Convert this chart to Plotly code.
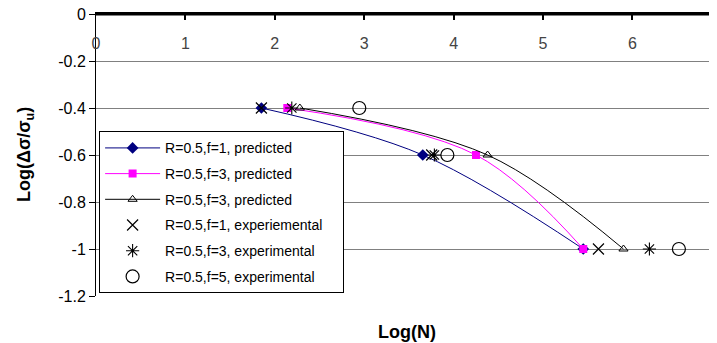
import plotly.graph_objects as go

# Data
y_levels = [-0.4, -0.6, -1.0]

pred_f1_x = [1.85, 3.655, 5.45]
pred_f3_x = [2.14, 4.25, 5.45]
pred_f3b_x = [2.28, 4.38, 5.90]

exp_f1_x = [1.85, 3.755, 5.62]
exp_f3_x = [2.19, 3.785, 6.19]
exp_f5_x = [2.945, 3.93, 6.52]

names = [
    "R=0.5,f=1, predicted",
    "R=0.5,f=3, predicted",
    "R=0.5,f=3, predicted",
    "R=0.5,f=1, experiemental\u00a0\u00a0\u00a0\u00a0",
    "R=0.5,f=3, experimental",
    "R=0.5,f=5, experimental",
]

y_tickvals = [0, -0.2, -0.4, -0.6, -0.8, -1.0, -1.2]
y_ticktext = ["0", "-0.2", "-0.4", "-0.6", "-0.8", "-1", "-1.2"]
x_tickvals = [0, 1, 2, 3, 4, 5, 6]
x_ticktext = ["0", "1", "2", "3", "4", "5", "6"]

FONT = "Liberation Sans, Arial, sans-serif"

fig = go.Figure()

fig.add_trace(go.Scatter(
    x=pred_f1_x, y=y_levels, name=names[0], mode="lines+markers",
    line=dict(color="#000080", width=1, shape="spline", smoothing=1),
    marker=dict(symbol="diamond", size=9, color="#000080"),
    legendgroup="a"))
fig.add_trace(go.Scatter(
    x=pred_f3_x, y=y_levels, name=names[1], mode="lines+markers",
    line=dict(color="#FF00FF", width=1, shape="spline", smoothing=1),
    marker=dict(symbol="square", size=8, color="#FF00FF"),
    legendgroup="b"))
fig.add_trace(go.Scatter(
    x=pred_f3b_x, y=y_levels, name=names[2], mode="lines+markers",
    line=dict(color="#000000", width=1, shape="spline", smoothing=1),
    marker=dict(symbol="triangle-up-open", size=8, color="#000000",
                line=dict(width=1, color="#000000")),
    legendgroup="c"))
fig.add_trace(go.Scatter(
    x=exp_f1_x, y=y_levels, name=names[3], mode="markers",
    marker=dict(symbol="x-thin-open", size=11, color="#000000",
                line=dict(width=1.2, color="#000000")),
    legendgroup="d"))
fig.add_trace(go.Scatter(
    x=exp_f3_x, y=y_levels, name=names[4], mode="markers",
    marker=dict(symbol="asterisk-open", size=11, color="#000000",
                line=dict(width=1.1, color="#000000")),
    legendgroup="e"))
fig.add_trace(go.Scatter(
    x=exp_f5_x, y=y_levels, name=names[5], mode="markers",
    marker=dict(symbol="circle-open", size=13, color="#000000",
                line=dict(width=1.2, color="#000000")),
    legendgroup="f"))

# The page body adds an 8px offset; the figure is sized/placed to compensate.
fig.update_layout(
    width=709, height=335,
    margin=dict(l=88, r=0, t=6, b=47, autoexpand=False),
    paper_bgcolor="white", plot_bgcolor="white",
    font=dict(family=FONT, color="black", size=16),
    showlegend=True,
    legend=dict(
        x=0.005, y=0.584, xanchor="left", yanchor="top",
        bgcolor="white", bordercolor="black", borderwidth=1,
        font=dict(family=FONT, size=14, color="black"),
        tracegroupgap=4.5, itemclick=False, itemwidth=55,
    ),
    xaxis=dict(
        range=[0, 6.946], side="top",
        showline=True, linecolor="black", linewidth=1.5,
        ticks="inside", ticklen=6, tickcolor="black", tickwidth=1.5,
        ticklabelposition="inside", ticklabelstandoff=18,
        ticklabeloverflow="allow",
        tickvals=x_tickvals, ticktext=x_ticktext,
        showgrid=False, zeroline=False,
        tickfont=dict(size=16),
    ),
    yaxis=dict(
        range=[-1.2, 0], showline=True, linecolor="black", linewidth=1,
        ticks="outside", ticklen=6, tickcolor="black",
        ticklabeloverflow="allow",
        tickvals=y_tickvals, ticktext=y_ticktext,
        showgrid=True, gridcolor="#808080", gridwidth=1,
        zeroline=False,
        tickfont=dict(size=16),
    ),
    shapes=[
        # top border of the plot area (the x-axis line at y = 0)
        dict(type="line", xref="paper", yref="paper", x0=0, x1=1,
             y0=0.997, y1=0.997,
             line=dict(color="black", width=1.5), layer="above"),
    ],
    annotations=[
        dict(text="<b>Log(N)</b>", xref="paper", yref="paper", x=0.5,
             y=-0.128, xanchor="center", yanchor="middle", showarrow=False,
             font=dict(size=18)),
        dict(text="<b>Log(\u0394\u03c3/\u03c3<sub>u</sub>)</b>", xref="paper",
             yref="paper", x=-0.1143, y=0.5, xanchor="center",
             yanchor="middle", textangle=-90, showarrow=False,
             font=dict(size=18)),
        dict(text="7", xref="paper", yref="paper", x=1.0055, y=0.898,
             xanchor="center", yanchor="middle", showarrow=False,
             font=dict(size=16)),
    ],
)

fig.write_html("out.html")
